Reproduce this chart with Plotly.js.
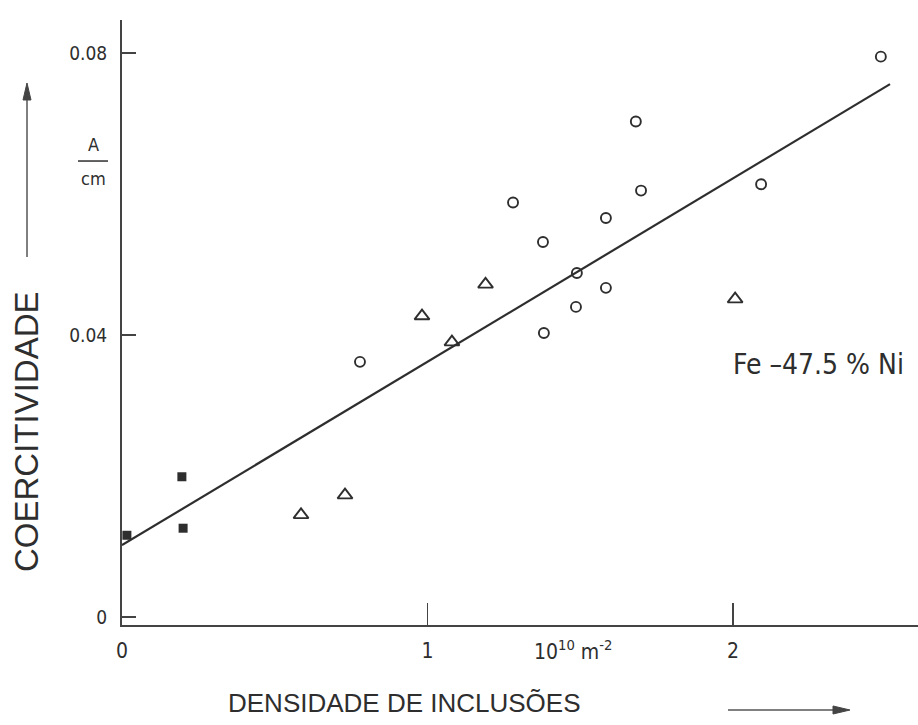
<!DOCTYPE html>
<html>
<head>
<meta charset="utf-8">
<script src="https://cdn.plot.ly/plotly-3.0.1.min.js"></script>
<style>html,body{margin:0;padding:0;background:#fff;}#chart{width:918px;height:725px;}</style>
</head>
<body>
<div id="chart"></div>
<script>
// Filled squares
const squareX = [0.016, 0.196, 0.200];
const squareY = [0.0116, 0.0199, 0.0126];
// Open triangles
const triX = [0.586, 0.730, 0.982, 1.080, 1.190, 2.007];
const triY = [0.0145, 0.0173, 0.0427, 0.0390, 0.0472, 0.0451];
// Open circles
const circX = [0.779, 1.280, 1.378, 1.381, 1.486, 1.489, 1.584, 1.584, 1.682, 1.699, 2.092, 2.484];
const circY = [0.0362, 0.0588, 0.0532, 0.0403, 0.0440, 0.0488, 0.0566, 0.0467, 0.0703, 0.0605, 0.0614, 0.0795];
// Regression line
const lineX = [0, 2.514];
const lineY = [0.0102, 0.0756];
// Ticks
const xTickVals = [0, 1, 2];
const xTickText = ['0', '1', '2'];
const yTickVals = [0, 0.04, 0.08];
const yTickText = ['0', '0.04', '0.08'];

const ink = '#2e2e2e';
const cond = 'DejaVu Sans Condensed, DejaVu Sans, sans-serif';
const sans = 'Liberation Sans, Arial, sans-serif';

const traces = [
  {x: lineX, y: lineY, mode: 'lines', line: {color: ink, width: 2.2}, hoverinfo: 'skip'},
  {x: circX, y: circY, mode: 'markers', marker: {symbol: 'circle-open', size: 10, color: ink, line: {width: 1.9, color: ink}}},
  {x: triX, y: triY, mode: 'markers', marker: {symbol: 'triangle-up-open', size: 13, color: ink, line: {width: 1.9, color: ink}}},
  {x: squareX, y: squareY, mode: 'markers', marker: {symbol: 'square', size: 9, color: ink, line: {width: 0}}}
];

function ann(x, y, text, font, extra) {
  return Object.assign({xref: 'paper', yref: 'paper', x: x, y: y, text: text, showarrow: false,
    xanchor: 'center', yanchor: 'middle', font: font}, extra || {});
}

const layout = {
  width: 918, height: 725,
  margin: {l: 122, r: 0, t: 20, b: 100},
  paper_bgcolor: '#fff', plot_bgcolor: '#fff',
  showlegend: false,
  xaxis: {
    range: [0, 2.6056], showgrid: false, zeroline: false,
    showline: true, linecolor: '#444', linewidth: 2,
    ticks: 'inside', ticklen: 22, tickwidth: 1.5, tickcolor: '#444',
    tickvals: xTickVals, ticktext: xTickText, ticklabelstandoff: 6,
    tickfont: {family: cond, size: 21, color: ink}
  },
  yaxis: {
    range: [-0.00113, 0.0847], showgrid: false, zeroline: false,
    showline: true, linecolor: '#444', linewidth: 2,
    ticks: 'inside', ticklen: 14, tickwidth: 1.5, tickcolor: '#444',
    tickvals: yTickVals, ticktext: yTickText, ticklabelstandoff: 9,
    tickfont: {family: cond, size: 19, color: ink}
  },
  annotations: [
    ann(-0.1206, 0.319, 'COERCITIVIDADE', {family: sans, size: 33, color: ink}, {textangle: -90}),
    ann(0.3555, -0.129, 'DENSIDADE DE INCLUSÕES', {family: sans, size: 26, color: ink}),
    ann(0.566, -0.0413, '10<sup>10</sup> m<sup>-2</sup>', {family: cond, size: 21, color: ink}),
    ann(0.8744, 0.4314, 'Fe –47.5 % Ni', {family: cond, size: 28, color: ink}),
    ann(-0.0364, 0.7934, 'A', {family: cond, size: 18, color: ink}),
    ann(-0.0364, 0.7388, 'cm', {family: cond, size: 18, color: ink})
  ],
  shapes: [
    // A/cm fraction bar
    {type: 'line', xref: 'paper', yref: 'paper', x0: -0.0553, x1: -0.0176, y0: 0.7669, y1: 0.7669,
     line: {color: ink, width: 1.5}},
    // vertical arrow (y direction)
    {type: 'line', xref: 'paper', yref: 'paper', x0: -0.11935, x1: -0.11935, y0: 0.60826, y1: 0.87603,
     line: {color: '#555', width: 1.5}},
    {type: 'path', xref: 'paper', yref: 'paper', path: 'M -0.11935 0.89587 L -0.12437 0.86777 L -0.11432 0.86777 Z',
     fillcolor: '#444', line: {color: '#444', width: 1}},
    // horizontal arrow (x direction)
    {type: 'line', xref: 'paper', yref: 'paper', x0: 0.76131, x1: 0.89950, y0: -0.14050, y1: -0.14050,
     line: {color: '#555', width: 1.5}},
    {type: 'path', xref: 'paper', yref: 'paper', path: 'M 0.91457 -0.14050 L 0.89322 -0.13388 L 0.89322 -0.14711 Z',
     fillcolor: '#444', line: {color: '#444', width: 1}}
  ]
};

Plotly.newPlot('chart', traces, layout, {displayModeBar: false, staticPlot: true});
</script>
</body>
</html>
